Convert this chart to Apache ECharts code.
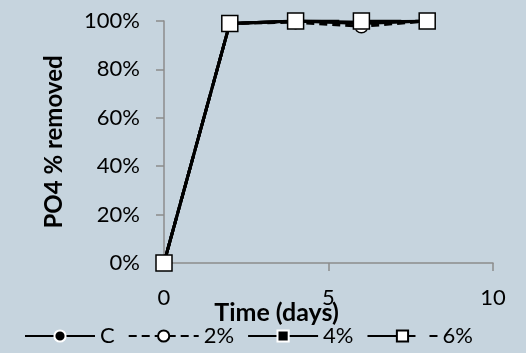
<!DOCTYPE html>
<html>
<head>
<meta charset="utf-8">
<script src="https://cdn.jsdelivr.net/npm/echarts@6/dist/echarts.min.js"></script>
<style>
  html, body { margin: 0; padding: 0; background: #c6d4de; }
  #chart { width: 526px; height: 353px; }
</style>
</head>
<body>
<div id="chart"></div>
<script>
// Phosphate removal over time for each treatment
const days = [0, 2, 4, 6, 8];
const seriesNames = ['C', '2%', '4%', '6%'];
const valuesC = [0, 99, 100, 99, 100];
const values2 = [0, 99, 99.5, 97.8, 100];
const values4 = [0, 99, 100, 99.5, 100];
const values6 = [0, 99, 100, 100, 100];
const xTicks = [0, 5, 10];
const yTicks = [0, 20, 40, 60, 80, 100];

const font = 'Lato, "Open Sans", sans-serif';
const pairs = v => days.map((d, i) => [d, v[i]]);

const chart = echarts.init(document.getElementById('chart'));
chart.setOption({
  backgroundColor: '#c6d4de',
  animation: false,
  grid: { left: 164, right: 33, top: 21, bottom: 90 },
  legend: {
    top: 320, left: 19,
    itemWidth: 70, itemHeight: 14, itemGap: 13,
    textStyle: { fontFamily: font, fontSize: 22, color: '#000' },
    data: seriesNames
  },
  xAxis: {
    type: 'value', min: xTicks[0], max: xTicks[xTicks.length - 1], interval: 5,
    name: 'Time (days)', nameLocation: 'middle', nameGap: 37, nameMoveOverlap: false,
    // title sits left of the axis midpoint: right padding shifts the centred text
    nameTextStyle: {
      fontFamily: font, fontSize: 25, fontWeight: 'bold', color: '#000',
      align: 'center', padding: [0, 104, 0, 0]
    },
    axisLine: { lineStyle: { color: '#8c8c8c', width: 1.5 } },
    axisTick: { show: true, length: 8, lineStyle: { color: '#8c8c8c', width: 1.5 } },
    axisLabel: { margin: 24, fontFamily: font, fontSize: 22, color: '#000' },
    splitLine: { show: false }
  },
  yAxis: {
    type: 'value', min: yTicks[0], max: yTicks[yTicks.length - 1], interval: 20,
    name: 'PO4 % removed', nameLocation: 'middle', nameGap: 98, nameRotate: 90,
    nameMoveOverlap: false,
    nameTextStyle: { fontFamily: font, fontSize: 24, fontWeight: 'bold', color: '#000', align: 'center' },
    axisLine: { show: true, lineStyle: { color: '#8c8c8c', width: 1.5 } },
    axisTick: { show: true, length: 8, lineStyle: { color: '#8c8c8c', width: 1.5 } },
    axisLabel: { margin: 24, fontFamily: font, fontSize: 22, color: '#000', formatter: '{value}%' },
    splitLine: { show: false }
  },
  series: [
    {
      name: 'C', type: 'line', data: pairs(valuesC),
      symbol: 'circle', symbolSize: 11,
      lineStyle: { color: '#000', width: 3 },
      itemStyle: { color: '#000', borderColor: '#fff', borderWidth: 1.5 }
    },
    {
      name: '2%', type: 'line', data: pairs(values2),
      symbol: 'circle', symbolSize: 13,
      lineStyle: { color: '#000', width: 3, type: [8, 5] },
      itemStyle: { color: '#fff', borderColor: '#000', borderWidth: 1.5 }
    },
    {
      name: '4%', type: 'line', data: pairs(values4),
      symbol: 'rect', symbolSize: 13,
      lineStyle: { color: '#000', width: 3 },
      itemStyle: { color: '#000', borderColor: '#fff', borderWidth: 1.5 }
    },
    {
      name: '6%', type: 'line', data: pairs(values6),
      symbol: 'rect', symbolSize: 16,
      lineStyle: { color: '#000', width: 3, type: [48, 14] },
      itemStyle: { color: '#fff', borderColor: '#000', borderWidth: 1.5 }
    }
  ]
});
</script>
</body>
</html>
